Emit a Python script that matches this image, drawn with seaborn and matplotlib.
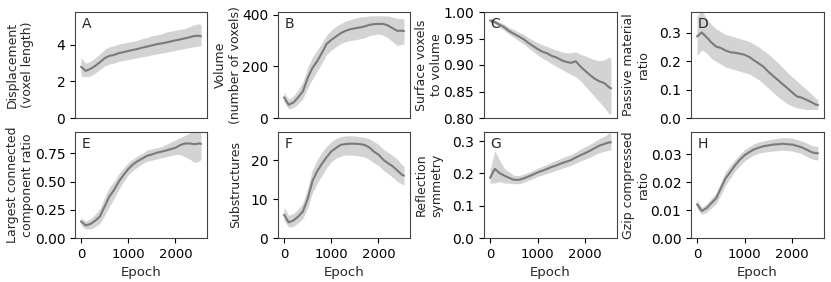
import matplotlib
matplotlib.use("Agg")
import matplotlib.pyplot as plt
import seaborn as sns
import pandas as pd

epochs = [0, 100, 200, 300, 400, 500, 600, 700, 800, 900, 1000, 1100, 1200, 1300,
          1400, 1500, 1600, 1700, 1800, 1900, 2000, 2100, 2200, 2300, 2400, 2500, 2540]

# A - displacement
disp_mean = [2.8, 2.58, 2.69, 2.85, 3.05, 3.27, 3.4, 3.45, 3.55, 3.6, 3.67, 3.72, 3.78, 3.85,
             3.91, 3.97, 4.04, 4.08, 4.13, 4.19, 4.25, 4.3, 4.36, 4.42, 4.49, 4.5, 4.47]
disp_low = [2.3, 2.25, 2.3, 2.45, 2.65, 2.85, 2.95, 3.0, 3.1, 3.15, 3.2, 3.25, 3.3, 3.35,
            3.4, 3.45, 3.5, 3.55, 3.6, 3.65, 3.7, 3.75, 3.8, 3.85, 3.9, 3.95, 3.95]
disp_high = [3.3, 3.0, 3.1, 3.3, 3.5, 3.75, 3.9, 3.95, 4.05, 4.1, 4.15, 4.2, 4.25, 4.35,
             4.4, 4.5, 4.55, 4.6, 4.7, 4.75, 4.8, 4.85, 4.9, 5.0, 5.1, 5.15, 5.1]

# B - volume
vol_mean = [80, 51, 60, 80, 103, 154, 193, 219, 251, 286, 302, 315, 328, 337,
            343, 347, 350, 354, 360, 363, 364, 364, 358, 347, 337, 338, 336]
vol_low = [60, 35, 40, 55, 75, 115, 150, 180, 212, 245, 262, 275, 288, 295,
           300, 302, 306, 310, 318, 322, 325, 320, 310, 295, 280, 285, 285]
vol_high = [100, 72, 85, 110, 140, 195, 235, 262, 290, 320, 340, 355, 365, 375,
            380, 386, 390, 392, 395, 395, 395, 395, 395, 390, 385, 385, 380]

# C - surface voxels to volume
surf_mean = [0.984, 0.981, 0.976, 0.971, 0.964, 0.959, 0.954, 0.949, 0.942, 0.936, 0.930, 0.925, 0.922, 0.917,
             0.914, 0.909, 0.906, 0.904, 0.907, 0.897, 0.889, 0.881, 0.874, 0.869, 0.866, 0.858, 0.856]
surf_low = [0.981, 0.977, 0.971, 0.965, 0.958, 0.952, 0.946, 0.940, 0.933, 0.926, 0.919, 0.913, 0.908, 0.902,
            0.897, 0.892, 0.887, 0.882, 0.878, 0.870, 0.860, 0.850, 0.840, 0.830, 0.820, 0.808, 0.808]
surf_high = [0.987, 0.985, 0.981, 0.977, 0.971, 0.967, 0.962, 0.958, 0.952, 0.947, 0.942, 0.938, 0.935, 0.931,
             0.928, 0.925, 0.923, 0.923, 0.925, 0.920, 0.917, 0.913, 0.910, 0.908, 0.910, 0.915, 0.912]

# D - passive material ratio
pass_mean = [0.288, 0.302, 0.285, 0.267, 0.252, 0.247, 0.238, 0.232, 0.230, 0.227, 0.223, 0.215, 0.203, 0.192,
             0.180, 0.163, 0.148, 0.134, 0.119, 0.105, 0.090, 0.076, 0.072, 0.064, 0.056, 0.047, 0.046]
pass_low = [0.22, 0.24, 0.23, 0.21, 0.2, 0.19, 0.18, 0.175, 0.17, 0.165, 0.16, 0.155, 0.145, 0.135,
            0.12, 0.105, 0.09, 0.075, 0.062, 0.05, 0.042, 0.036, 0.033, 0.03, 0.03, 0.03, 0.03]
pass_high = [0.36, 0.38, 0.35, 0.33, 0.315, 0.305, 0.295, 0.29, 0.285, 0.28, 0.275, 0.27, 0.26, 0.25,
             0.238, 0.225, 0.21, 0.195, 0.178, 0.16, 0.145, 0.13, 0.115, 0.1, 0.085, 0.068, 0.065]

# E - largest connected component ratio
lcc_mean = [0.147, 0.112, 0.124, 0.153, 0.191, 0.279, 0.368, 0.426, 0.5, 0.559, 0.612, 0.653, 0.682, 0.706,
            0.729, 0.741, 0.756, 0.765, 0.776, 0.788, 0.8, 0.824, 0.838, 0.838, 0.832, 0.838, 0.835]
lcc_low = [0.11, 0.08, 0.08, 0.1, 0.13, 0.2, 0.28, 0.35, 0.43, 0.5, 0.56, 0.6, 0.63, 0.66,
           0.68, 0.69, 0.7, 0.71, 0.72, 0.73, 0.74, 0.74, 0.72, 0.7, 0.67, 0.68, 0.7]
lcc_high = [0.18, 0.15, 0.17, 0.21, 0.26, 0.36, 0.45, 0.5, 0.57, 0.62, 0.67, 0.7, 0.73, 0.75,
            0.78, 0.79, 0.8, 0.81, 0.83, 0.85, 0.87, 0.89, 0.91, 0.93, 0.95, 0.96, 0.95]

# F - substructures
sub_mean = [6.0, 4.0, 4.5, 5.5, 6.8, 10.0, 14.5, 17.1, 19.0, 20.7, 22.2, 23.1, 23.9, 24.1,
            24.2, 24.2, 24.1, 23.9, 23.3, 22.2, 21.4, 20.1, 19.2, 18.4, 17.3, 16.2, 16.0]
sub_low = [4.5, 2.8, 3.0, 3.9, 5.0, 7.7, 11.5, 14.0, 16.0, 18.0, 19.5, 20.5, 21.0, 21.3,
           21.3, 21.2, 21.0, 20.8, 20.2, 19.3, 18.6, 17.4, 16.5, 15.6, 14.5, 13.8, 13.6]
sub_high = [8.0, 5.8, 6.3, 7.4, 9.0, 12.8, 17.5, 20.0, 22.0, 23.5, 24.7, 25.5, 26.0, 26.2,
            26.2, 26.2, 26.0, 25.8, 25.5, 24.8, 24.0, 22.8, 22.0, 21.2, 20.2, 18.8, 18.5]

# G - reflection symmetry
sym_mean = [0.186, 0.214, 0.201, 0.193, 0.186, 0.180, 0.180, 0.184, 0.190, 0.196, 0.203, 0.208, 0.214, 0.220,
            0.225, 0.231, 0.236, 0.241, 0.249, 0.256, 0.263, 0.270, 0.278, 0.286, 0.291, 0.296, 0.296]
sym_low = [0.17, 0.17, 0.175, 0.17, 0.17, 0.168, 0.168, 0.172, 0.178, 0.184, 0.19, 0.195, 0.2, 0.205,
           0.21, 0.215, 0.22, 0.225, 0.232, 0.238, 0.244, 0.25, 0.258, 0.264, 0.268, 0.272, 0.272]
sym_high = [0.21, 0.27, 0.24, 0.215, 0.205, 0.194, 0.193, 0.197, 0.203, 0.209, 0.216, 0.222, 0.228, 0.235,
            0.241, 0.247, 0.253, 0.258, 0.266, 0.275, 0.283, 0.29, 0.299, 0.308, 0.315, 0.325, 0.325]

# H - gzip compressed ratio
gzip_mean = [0.0121, 0.0097, 0.0107, 0.0125, 0.0142, 0.0178, 0.0214, 0.0237, 0.0261, 0.0281, 0.0297, 0.0308, 0.0318, 0.0324,
             0.0329, 0.0332, 0.0335, 0.0336, 0.0338, 0.0336, 0.0335, 0.033, 0.0325, 0.0317, 0.0308, 0.0304, 0.0304]
gzip_low = [0.0105, 0.0085, 0.0092, 0.0108, 0.0122, 0.0155, 0.019, 0.0215, 0.024, 0.026, 0.0277, 0.0288, 0.0298, 0.0304,
            0.0308, 0.031, 0.0312, 0.0313, 0.0315, 0.0313, 0.0312, 0.0307, 0.0302, 0.0293, 0.0284, 0.028, 0.028]
gzip_high = [0.0137, 0.011, 0.0122, 0.0142, 0.0162, 0.0201, 0.0238, 0.026, 0.0282, 0.03, 0.0317, 0.0328, 0.0338, 0.0344,
             0.0349, 0.0352, 0.0355, 0.0357, 0.036, 0.0359, 0.0358, 0.0353, 0.0348, 0.0341, 0.0332, 0.0328, 0.0328]

letters = ["A", "B", "C", "D", "E", "F", "G", "H"]
ylabels = ["Displacement\n(voxel length)", "Volume\n(number of voxels)", "Surface voxels\nto volume",
           "Passive material\nratio", "Largest connected\ncomponent ratio", "Substructures",
           "Reflection\nsymmetry", "Gzip compressed\nratio"]
ylims = [(0, 5.8), (0, 410), (0.8, 1.0), (0, 0.374), (0, 0.94), (0, 27.2), (0, 0.328), (0, 0.038)]
yticks = [[0, 2, 4], [0, 200, 400], [0.80, 0.85, 0.90, 0.95, 1.00], [0.0, 0.1, 0.2, 0.3],
          [0.0, 0.25, 0.5, 0.75], [0, 10, 20], [0.0, 0.1, 0.2, 0.3], [0.0, 0.01, 0.02, 0.03]]
xticks = [0, 1000, 2000]

series = [(disp_mean, disp_low, disp_high), (vol_mean, vol_low, vol_high),
          (surf_mean, surf_low, surf_high), (pass_mean, pass_low, pass_high),
          (lcc_mean, lcc_low, lcc_high), (sub_mean, sub_low, sub_high),
          (sym_mean, sym_low, sym_high), (gzip_mean, gzip_low, gzip_high)]

sns.set_style("ticks")
plt.rcParams["font.family"] = ["DejaVu Sans"]
plt.rcParams["font.size"] = 9

W, H = 831, 282
fig = plt.figure(figsize=(W / 100, H / 100), dpi=100)

# pixel boxes of the columns / rows, and where the y labels end (right side)
cols = [(75, 207), (278, 410), (484, 617), (691, 824)]
rows = [(12, 118), (132, 238)]
label_x = [34, 242, 443, 650]

for i, (mean, low, high) in enumerate(series):
    r, c = divmod(i, 4)
    x0, x1 = cols[c]
    y0, y1 = rows[r]
    ax = fig.add_axes([x0 / W, 1 - y1 / H, (x1 - x0) / W, (y1 - y0) / H])

    df = pd.DataFrame({"epoch": epochs, "mean": mean, "low": low, "high": high})
    ax.fill_between(df["epoch"], df["low"], df["high"], color="#d3d3d3", lw=0)
    sns.lineplot(data=df, x="epoch", y="mean", ax=ax, color="#7a7a7a", lw=1.5)

    ax.set_ylim(*ylims[i])
    ax.set_yticks(yticks[i])
    ax.set_xlim(-127, 2667)
    ax.set_ylabel(ylabels[i], fontsize=9)
    ax.yaxis.set_label_coords((label_x[c] - x0) / (x1 - x0), 0.5)
    ax.tick_params(axis="y", labelsize=10, colors="black")
    ax.tick_params(axis="x", labelsize=9.5, colors="black")
    ax.text(0.05, 0.89, letters[i], transform=ax.transAxes, fontsize=10, va="center", ha="left")
    for s in ax.spines.values():
        s.set_color("#444444")
        s.set_linewidth(0.8)

    if r == 0:
        ax.tick_params(axis="x", bottom=False, labelbottom=False)
        ax.set_xlabel("")
    else:
        ax.set_xticks(xticks)
        ax.set_xlabel("Epoch", fontsize=9.5)

fig.savefig("out.png", dpi=100)
